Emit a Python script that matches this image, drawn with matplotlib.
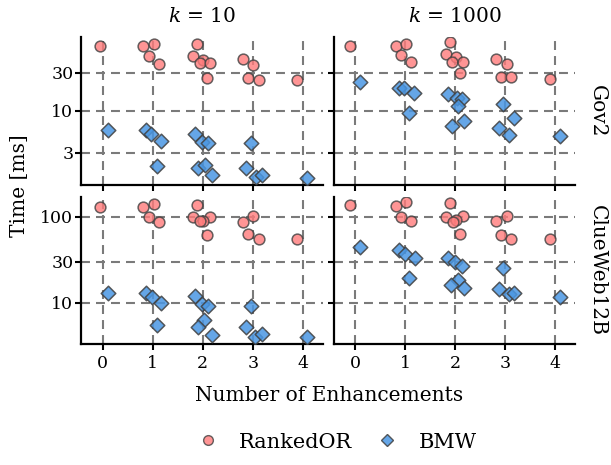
import matplotlib
matplotlib.use("Agg")
import matplotlib.pyplot as plt
from matplotlib.lines import Line2D

# ---- data (x = jittered enhancement count, y = time in ms)
ranked_x_gov2_k10 = [-0.05, 0.81, 1.03, 0.93, 1.12, 1.88, 1.81, 2.01, 1.95, 2.15, 2.08, 2.81, 3.01, 2.91, 3.12, 3.89]
ranked_t_gov2_k10 = [64.4, 64.4, 67.6, 48.0, 38.7, 68.6, 48.0, 43.5, 39.5, 39.5, 25.9, 44.0, 37.6, 25.9, 24.2, 24.2]
bmw_x_gov2_k10 = [0.11, 0.87, 0.96, 1.17, 1.08, 1.85, 1.98, 2.11, 1.90, 2.05, 2.18, 2.97, 2.87, 3.07, 3.18, 4.08]
bmw_t_gov2_k10 = [5.84, 5.84, 5.19, 4.23, 2.03, 5.19, 4.13, 3.94, 1.95, 2.13, 1.56, 3.94, 1.95, 1.48, 1.60, 1.44]

ranked_x_gov2_k1000 = [-0.10, 0.82, 1.02, 0.92, 1.12, 1.89, 1.81, 2.01, 1.94, 2.16, 2.09, 2.82, 3.03, 2.92, 3.12, 3.89]
ranked_t_gov2_k1000 = [64.4, 64.4, 67.6, 49.4, 40.3, 73.1, 51.4, 47.1, 41.4, 40.3, 29.4, 44.9, 38.7, 26.7, 26.7, 24.9]
bmw_x_gov2_k1000 = [0.10, 0.88, 0.98, 1.18, 1.07, 1.85, 2.03, 2.13, 2.05, 1.93, 2.17, 2.96, 3.18, 2.88, 3.08, 4.10]
bmw_t_gov2_k1000 = [23.0, 19.3, 19.3, 16.7, 9.5, 16.3, 14.5, 14.1, 11.6, 6.44, 7.46, 12.2, 8.08, 6.13, 5.04, 4.80]

ranked_x_cw_k10 = [-0.05, 0.81, 1.03, 0.93, 1.12, 1.88, 1.81, 2.15, 2.01, 1.95, 2.08, 2.81, 3.01, 2.91, 3.12, 3.89]
ranked_t_cw_k10 = [128.8, 128.8, 140.9, 98.2, 87.3, 137.0, 98.2, 100.0, 88.1, 88.0, 60.8, 87.3, 102.7, 62.5, 54.6, 54.6]
bmw_x_cw_k10 = [0.11, 0.87, 0.98, 1.17, 1.08, 1.85, 1.98, 2.11, 2.03, 1.90, 2.18, 2.97, 2.87, 3.05, 3.18, 4.08]
bmw_t_cw_k10 = [13.1, 13.1, 11.6, 10.0, 5.56, 12.0, 9.8, 9.1, 6.37, 5.22, 4.28, 9.1, 5.22, 4.06, 4.36, 3.98]

ranked_x_cw_k1000 = [-0.10, 0.82, 1.02, 0.92, 1.12, 1.89, 1.81, 2.15, 2.01, 1.96, 2.09, 2.82, 3.03, 2.92, 3.12, 3.89]
ranked_t_cw_k1000 = [137.0, 132.0, 147.0, 98.0, 88.0, 145.0, 98.0, 102.7, 91.4, 85.8, 62.5, 88.0, 101.0, 60.8, 55.6, 54.6]
bmw_x_cw_k1000 = [0.10, 0.88, 0.99, 1.19, 1.07, 1.85, 2.00, 2.13, 2.06, 1.92, 2.18, 2.96, 2.88, 3.08, 3.18, 4.10]
bmw_t_cw_k1000 = [44.8, 40.9, 36.4, 33.3, 19.3, 33.3, 30.0, 27.0, 18.5, 16.1, 14.8, 25.4, 14.5, 12.6, 13.1, 11.6]

col_titles = ["10", "1000"]
row_titles = ["Gov2", "ClueWeb12B"]
x_ticks = [0, 1, 2, 3, 4]
y_ticks = [[3, 10, 30], [10, 30, 100]]

panels = [
    [(ranked_x_gov2_k10, ranked_t_gov2_k10, bmw_x_gov2_k10, bmw_t_gov2_k10),
     (ranked_x_gov2_k1000, ranked_t_gov2_k1000, bmw_x_gov2_k1000, bmw_t_gov2_k1000)],
    [(ranked_x_cw_k10, ranked_t_cw_k10, bmw_x_cw_k10, bmw_t_cw_k10),
     (ranked_x_cw_k1000, ranked_t_cw_k1000, bmw_x_cw_k1000, bmw_t_cw_k1000)],
]

plt.rcParams["font.family"] = ["DejaVu Serif"]
plt.rcParams["mathtext.fontset"] = "dejavuserif"

RED = "#ff7b7b"
BLUE = "#4a97e3"
EDGE = "#404040"
GRID = "#7a7a7a"
FS = 14.5
TICK_FS = 12.5

fig = plt.figure(figsize=(6.11, 4.65), dpi=100)

W, H = 611.0, 465.0
col_px = [(81, 323), (334, 575)]
row_px = [(37, 185), (197, 344)]

axes = [[None, None], [None, None]]
for r in range(2):
    for c in range(2):
        x0, x1 = col_px[c]
        y0, y1 = row_px[r]
        ax = fig.add_axes([x0 / W, 1 - y1 / H, (x1 - x0) / W, (y1 - y0) / H])
        axes[r][c] = ax
        rx, ry, bx, by = panels[r][c]
        ax.set_yscale("log")
        ax.scatter(rx, ry, s=60, marker="o", facecolor=RED, edgecolor=EDGE,
                   linewidth=1.1, alpha=0.8, zorder=3)
        ax.scatter(bx, by, s=55, marker="D", facecolor=BLUE, edgecolor=EDGE,
                   linewidth=1.1, alpha=0.85, zorder=3)
        ax.set_xlim(-0.43, 4.4)
        ax.set_xticks(x_ticks)
        ax.set_yticks(y_ticks[r])
        ax.minorticks_off()
        ax.grid(True, color=GRID, linestyle=(0, (4.3, 2.9)), linewidth=1.5, zorder=0)
        for s in ["top", "right"]:
            ax.spines[s].set_visible(False)
        for s in ["left", "bottom"]:
            ax.spines[s].set_linewidth(1.6)
            ax.spines[s].set_color("black")
        ax.tick_params(axis="both", length=4, width=1.5, color="black",
                       labelsize=TICK_FS)
        ax.tick_params(axis="y", pad=1.5)
        ax.tick_params(axis="x", pad=4)
        if r == 0:
            ax.tick_params(axis="x", labelbottom=False)
            ax.text(0.5, 1 + 20 / (y1 - y0), r"$k$ = " + col_titles[c],
                    transform=ax.transAxes, ha="center", va="center", fontsize=FS)
        else:
            ax.set_xticklabels([str(t) for t in x_ticks])
        if c == 1:
            ax.tick_params(axis="y", labelleft=False)
            ax.text(1 + 22 / (x1 - x0), 0.5, row_titles[r], transform=ax.transAxes,
                    rotation=270, ha="center", va="center", fontsize=FS)
        else:
            ax.set_yticklabels([str(t) for t in y_ticks[r]])

# share y range within each row
for r in range(2):
    lo = min(axes[r][0].get_ylim()[0], axes[r][1].get_ylim()[0])
    hi = max(axes[r][0].get_ylim()[1], axes[r][1].get_ylim()[1])
    for c in range(2):
        axes[r][c].set_ylim(lo, hi)

fig.text(20 / W, 1 - 186 / H, "Time [ms]", rotation=90, ha="center", va="center", fontsize=FS)
fig.text(329 / W, 1 - 395 / H, "Number of Enhancements", ha="center", va="center", fontsize=FS)

handles = [
    Line2D([], [], marker="o", linestyle="none", markersize=7, markerfacecolor=RED,
           markeredgecolor=EDGE, alpha=0.8, label="RankedOR"),
    Line2D([], [], marker="D", linestyle="none", markersize=6, markerfacecolor=BLUE,
           markeredgecolor=EDGE, alpha=0.85, label="BMW"),
]
fig.legend(handles=handles, loc="center", bbox_to_anchor=(337 / W, 1 - 442 / H), ncol=2,
           frameon=False, fontsize=15, handletextpad=1.0, columnspacing=1.2,
           handlelength=1.0)

fig.savefig("out.png", dpi=100)
